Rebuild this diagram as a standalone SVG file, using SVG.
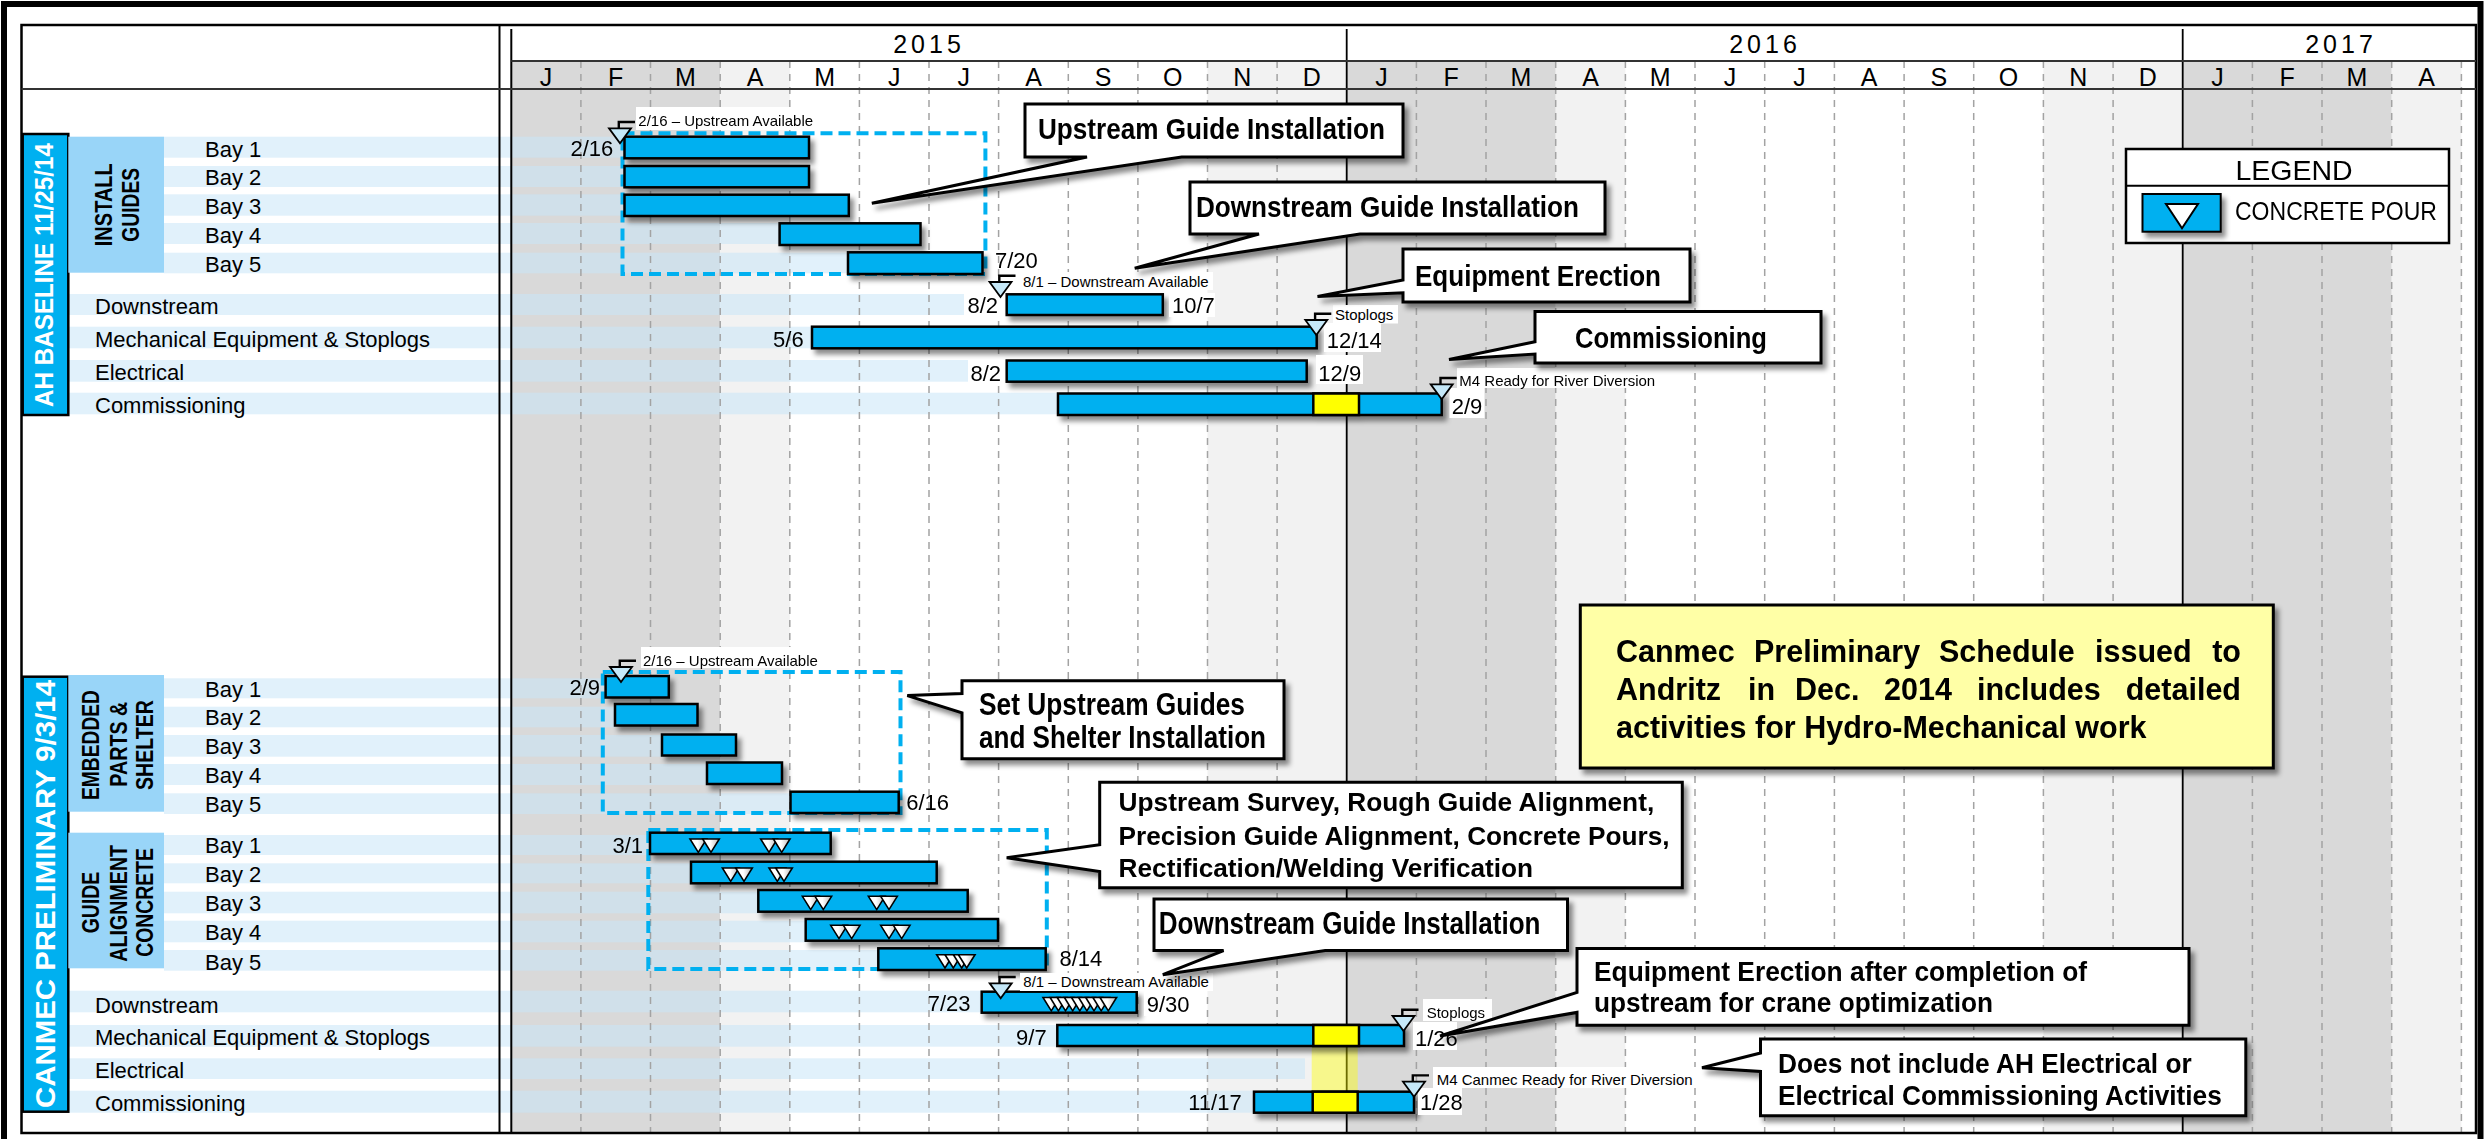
<svg xmlns="http://www.w3.org/2000/svg" width="2484" height="1139" viewBox="0 0 2484 1139">
  <defs>
    <style>
      text { font-family: "Liberation Sans", Arial, sans-serif; fill: #000; }
      .yr { font-size: 25px; letter-spacing: 4px; text-anchor: middle; }
      .mo { font-size: 25px; text-anchor: middle; }
      .row { font-size: 22px; }
      .dt { font-size: 22px; }
      .dtr { font-size: 22px; text-anchor: end; }
      .ms { font-size: 15px; }
      .vt { font-weight: bold; fill: #fff; text-anchor: middle; }
      .grp { font-weight: bold; text-anchor: middle; }
      .co { font-weight: bold; }
      .stripe { fill: #c8e5f7; fill-opacity: 0.55; }
      .dark { fill: #d9d9d9; }
      .light { fill: #f2f2f2; }
      .grid { stroke: #a3a3a3; stroke-width: 1.5; stroke-dasharray: 7 6; fill: none; }
      .bar { fill: #00b0f0; stroke: #000; stroke-width: 2.5; }
      .hold { fill: #ffff00; stroke: #000; stroke-width: 2.5; }
      .box { fill: none; stroke: #00b0f0; stroke-width: 4; stroke-dasharray: 12 6; }
      .callout { fill: #fff; stroke: #000; stroke-width: 3; filter: url(#shadow); }
      .bg { fill: #fff; }
      .title { fill: #00b0f0; stroke: #000; stroke-width: 2.5; }
      .blk { fill: #99d5f8; }
    </style>
    <filter id="shadow" x="-10%" y="-30%" width="130%" height="180%">
      <feDropShadow dx="4" dy="5" stdDeviation="2.5" flood-color="#000" flood-opacity="0.45"/>
    </filter>
    <linearGradient id="pourFill" x1="0" y1="0" x2="1" y2="0">
      <stop offset="0.45" stop-color="#ffffff"/>
      <stop offset="1" stop-color="#b8b8b8"/>
    </linearGradient>
    <!-- concrete pour symbol -->
    <polygon id="pour" points="-8.3,0 8.3,0 0,13.3" fill="url(#pourFill)" stroke="#000" stroke-width="1.6" stroke-linejoin="miter"/>
    <!-- milestone flag + triangle -->
    <g id="milestone">
      <path d="M-1.2,0 V-6.3 H15" fill="none" stroke="#000" stroke-width="2.4"/>
      <polygon points="-11,0 11,0 0,15" fill="#c5e8f8" stroke="#000" stroke-width="1.8"/>
    </g>
  </defs>

  <!-- page -->
  <rect x="0" y="0" width="2484" height="1139" fill="#fff"/>

  <!-- seasonal column shading -->
  <g id="shading">
    <rect class="dark" x="511.3" y="61" width="208.9" height="1072"/>
    <rect class="light" x="720.2" y="61" width="69.6" height="1072"/>
    <rect class="light" x="1207.5" y="61" width="139.2" height="1072"/>
    <rect class="dark" x="1346.7" y="61" width="209" height="1072"/>
    <rect class="light" x="1555.7" y="61" width="69.7" height="1072"/>
    <rect class="light" x="2043.4" y="61" width="139.3" height="1072"/>
    <rect class="dark" x="2182.7" y="61" width="209" height="1072"/>
    <rect class="light" x="2391.7" y="61" width="69.7" height="1072"/>
  </g>

  <!-- row stripes -->
  <g id="stripes">
    <rect class="stripe" x="164" y="136.7" width="460.5" height="21"/>
    <rect class="stripe" x="164" y="166" width="460.5" height="21"/>
    <rect class="stripe" x="164" y="194.3" width="460.5" height="21.4"/>
    <rect class="stripe" x="164" y="223" width="615.6" height="21"/>
    <rect class="stripe" x="164" y="252.7" width="684" height="20.6"/>
    <rect class="stripe" x="68" y="294" width="898" height="21"/>
    <rect class="stripe" x="68" y="326.7" width="744" height="21.6"/>
    <rect class="stripe" x="68" y="360" width="902" height="21.7"/>
    <rect class="stripe" x="68" y="392.7" width="990" height="21.6"/>

    <rect class="stripe" x="164" y="678.3" width="441.6" height="20"/>
    <rect class="stripe" x="164" y="706.7" width="451" height="20.6"/>
    <rect class="stripe" x="164" y="735" width="498" height="21.7"/>
    <rect class="stripe" x="164" y="764" width="543" height="21"/>
    <rect class="stripe" x="164" y="793.3" width="626.5" height="20.7"/>
    <rect class="stripe" x="164" y="835" width="486" height="20"/>
    <rect class="stripe" x="164" y="863.3" width="527" height="20"/>
    <rect class="stripe" x="164" y="891.7" width="594.3" height="21.6"/>
    <rect class="stripe" x="164" y="920.7" width="641.7" height="21.6"/>
    <rect class="stripe" x="164" y="950" width="714.3" height="20.7"/>
    <rect class="stripe" x="68" y="990.7" width="913.7" height="21.6"/>
    <rect class="stripe" x="68" y="1025" width="989.3" height="21.7"/>
    <rect class="stripe" x="68" y="1058.3" width="1237" height="20.7"/>
    <rect class="stripe" x="68" y="1090.7" width="1186" height="22"/>
  </g>

  <!-- month grid -->
  <path class="grid" d="M580.9,61V1133 M650.5,61V1133 M720.2,61V1133 M789.8,61V1133 M859.4,61V1133 M929,61V1133 M998.6,61V1133 M1068.3,61V1133 M1137.9,61V1133 M1207.5,61V1133 M1277.1,61V1133 M1416.4,61V1133 M1486,61V1133 M1555.7,61V1133 M1625.4,61V1133 M1695,61V1133 M1764.7,61V1133 M1834.4,61V1133 M1904.1,61V1133 M1973.7,61V1133 M2043.4,61V1133 M2113.1,61V1133 M2252.4,61V1133 M2322,61V1133 M2391.7,61V1133 M2461.4,61V1133"/>

  <!-- frame and header rules -->
  <g id="frame" fill="none" stroke="#000">
    <path d="M4,1139 V4 H2480.5 V1139" stroke-width="6"/>
    <rect x="21.5" y="25" width="2454.5" height="1108" stroke-width="2.5"/>
    <path d="M499.5,25 V1133" stroke-width="2"/>
    <path d="M511.3,29 V1133" stroke-width="2"/>
    <path d="M1346.7,29 V1133 M2182.7,29 V1133" stroke-width="1.8"/>
    <path d="M511.3,61 H2476" stroke="#333" stroke-width="2"/>
    <path d="M21.5,89 H2476" stroke="#333" stroke-width="2"/>
  </g>

  <!-- timescale -->
  <g id="timescale">
    <text class="yr" x="929" y="53">2015</text>
    <text class="yr" x="1765" y="53">2016</text>
    <text class="yr" x="2341" y="53">2017</text>
    <text class="mo" x="546.1" y="85.5">J</text>
    <text class="mo" x="615.7" y="85.5">F</text>
    <text class="mo" x="685.4" y="85.5">M</text>
    <text class="mo" x="755" y="85.5">A</text>
    <text class="mo" x="824.6" y="85.5">M</text>
    <text class="mo" x="894.2" y="85.5">J</text>
    <text class="mo" x="963.8" y="85.5">J</text>
    <text class="mo" x="1033.5" y="85.5">A</text>
    <text class="mo" x="1103.1" y="85.5">S</text>
    <text class="mo" x="1172.7" y="85.5">O</text>
    <text class="mo" x="1242.3" y="85.5">N</text>
    <text class="mo" x="1311.9" y="85.5">D</text>
    <text class="mo" x="1381.5" y="85.5">J</text>
    <text class="mo" x="1451.2" y="85.5">F</text>
    <text class="mo" x="1520.9" y="85.5">M</text>
    <text class="mo" x="1590.5" y="85.5">A</text>
    <text class="mo" x="1660.2" y="85.5">M</text>
    <text class="mo" x="1729.9" y="85.5">J</text>
    <text class="mo" x="1799.6" y="85.5">J</text>
    <text class="mo" x="1869.2" y="85.5">A</text>
    <text class="mo" x="1938.9" y="85.5">S</text>
    <text class="mo" x="2008.6" y="85.5">O</text>
    <text class="mo" x="2078.2" y="85.5">N</text>
    <text class="mo" x="2147.9" y="85.5">D</text>
    <text class="mo" x="2217.5" y="85.5">J</text>
    <text class="mo" x="2287.2" y="85.5">F</text>
    <text class="mo" x="2356.9" y="85.5">M</text>
    <text class="mo" x="2426.5" y="85.5">A</text>
  </g>

  <!-- AH baseline section labels -->
  <g id="ah-labels">
    <rect class="title" x="22.7" y="134" width="45.6" height="281"/>
    <text class="vt" font-size="25" transform="translate(53.3,275) rotate(-90)" textLength="264" lengthAdjust="spacingAndGlyphs">AH BASELINE 11/25/14</text>
    <rect class="blk" x="68.3" y="136.7" width="95.7" height="136"/>
    <text class="grp" font-size="23" transform="translate(111.7,204.7) rotate(-90)" textLength="83" lengthAdjust="spacingAndGlyphs">INSTALL</text>
    <text class="grp" font-size="23" transform="translate(139.3,204.8) rotate(-90)" textLength="73.7" lengthAdjust="spacingAndGlyphs">GUIDES</text>
    <text class="row" x="205" y="156.7">Bay 1</text>
    <text class="row" x="205" y="185.3">Bay 2</text>
    <text class="row" x="205" y="214.3">Bay 3</text>
    <text class="row" x="205" y="243.3">Bay 4</text>
    <text class="row" x="205" y="271.7">Bay 5</text>
    <text class="row" x="95" y="314">Downstream</text>
    <text class="row" x="95" y="346.7">Mechanical Equipment &amp; Stoplogs</text>
    <text class="row" x="95" y="380">Electrical</text>
    <text class="row" x="95" y="412.7">Commissioning</text>
  </g>

  <!-- Canmec preliminary section labels -->
  <g id="canmec-labels">
    <rect class="title" x="22.7" y="676.7" width="45.6" height="435"/>
    <text class="vt" font-size="28" transform="translate(55,894) rotate(-90)" textLength="428" lengthAdjust="spacingAndGlyphs">CANMEC PRELIMINARY 9/3/14</text>
    <rect class="blk" x="68.3" y="675" width="95.7" height="136.7"/>
    <text class="grp" font-size="24" transform="translate(99.3,745) rotate(-90)" textLength="110" lengthAdjust="spacingAndGlyphs">EMBEDDED</text>
    <text class="grp" font-size="24" transform="translate(126.7,744.2) rotate(-90)" textLength="85" lengthAdjust="spacingAndGlyphs">PARTS &amp;</text>
    <text class="grp" font-size="24" transform="translate(153.3,745) rotate(-90)" textLength="90" lengthAdjust="spacingAndGlyphs">SHELTER</text>
    <rect class="blk" x="68.3" y="832.7" width="95.7" height="135.6"/>
    <text class="grp" font-size="24" transform="translate(99.3,902.5) rotate(-90)" textLength="61.6" lengthAdjust="spacingAndGlyphs">GUIDE</text>
    <text class="grp" font-size="24" transform="translate(126.7,903.3) rotate(-90)" textLength="116.7" lengthAdjust="spacingAndGlyphs">ALIGNMENT</text>
    <text class="grp" font-size="24" transform="translate(153.3,902.5) rotate(-90)" textLength="108.7" lengthAdjust="spacingAndGlyphs">CONCRETE</text>
    <text class="row" x="205" y="696.7">Bay 1</text>
    <text class="row" x="205" y="725">Bay 2</text>
    <text class="row" x="205" y="754">Bay 3</text>
    <text class="row" x="205" y="783.3">Bay 4</text>
    <text class="row" x="205" y="812.3">Bay 5</text>
    <text class="row" x="205" y="853.3">Bay 1</text>
    <text class="row" x="205" y="882.3">Bay 2</text>
    <text class="row" x="205" y="910.7">Bay 3</text>
    <text class="row" x="205" y="940">Bay 4</text>
    <text class="row" x="205" y="970">Bay 5</text>
    <text class="row" x="95" y="1012.7">Downstream</text>
    <text class="row" x="95" y="1045">Mechanical Equipment &amp; Stoplogs</text>
    <text class="row" x="95" y="1078.3">Electrical</text>
    <text class="row" x="95" y="1111">Commissioning</text>
  </g>

  <!-- grouping frames -->
  <g id="groupings">
    <rect class="box" x="622.5" y="133.3" width="362.9" height="140.7"/>
    <rect class="box" x="602.8" y="672" width="297.7" height="141"/>
    <rect class="box" x="648.3" y="830" width="398.5" height="139"/>
  </g>

  <!-- electrical hold window -->
  <rect id="hold-window" x="1311.7" y="1046" width="46" height="45.7" fill="#ffff00" fill-opacity="0.42"/>

  <!-- AH baseline bars -->
  <g id="ah-bars" filter="url(#shadow)">
    <rect id="ah-bay1" class="bar" x="624.5" y="136.7" width="184.5" height="21.6"/>
    <rect id="ah-bay2" class="bar" x="624.5" y="166" width="184.5" height="21.3"/>
    <rect id="ah-bay3" class="bar" x="624.5" y="194.7" width="224.3" height="21.3"/>
    <rect id="ah-bay4" class="bar" x="779.6" y="223.3" width="140.9" height="21.7"/>
    <rect id="ah-bay5" class="bar" x="848" y="252.3" width="134.5" height="21.7"/>
    <rect id="ah-downstream" class="bar" x="1006.7" y="294.3" width="156.1" height="20.7"/>
    <rect id="ah-mech" class="bar" x="812" y="326.7" width="504.7" height="21.6"/>
    <rect id="ah-elec" class="bar" x="1006.7" y="360.5" width="300" height="21.2"/>
    <g id="ah-comm">
      <rect class="bar" x="1058" y="393.5" width="383.7" height="21.5"/>
      <rect class="hold" x="1313.3" y="393.5" width="45.7" height="21.5"/>
    </g>
  </g>

  <!-- Canmec preliminary bars -->
  <g id="cm-bars" filter="url(#shadow)">
    <rect id="cm-eps1" class="bar" x="605.6" y="676" width="63.2" height="21.5"/>
    <rect id="cm-eps2" class="bar" x="615" y="704" width="82.5" height="21.5"/>
    <rect id="cm-eps3" class="bar" x="662" y="734.5" width="74" height="21"/>
    <rect id="cm-eps4" class="bar" x="707" y="762.5" width="75" height="21.5"/>
    <rect id="cm-eps5" class="bar" x="790.5" y="791.7" width="108.2" height="21.3"/>
    <g id="cm-gac1">
      <rect class="bar" x="650" y="832.7" width="180.7" height="21.3"/>
      <use href="#pour" x="698.3" y="839"/><use href="#pour" x="711" y="839"/>
      <use href="#pour" x="769" y="839"/><use href="#pour" x="781.7" y="839"/>
    </g>
    <g id="cm-gac2">
      <rect class="bar" x="691" y="861.7" width="245.7" height="21.6"/>
      <use href="#pour" x="730.7" y="868"/><use href="#pour" x="744" y="868"/>
      <use href="#pour" x="777.3" y="868"/><use href="#pour" x="784" y="868"/>
    </g>
    <g id="cm-gac3">
      <rect class="bar" x="758.3" y="890" width="209.4" height="21.7"/>
      <use href="#pour" x="810.7" y="896.3"/><use href="#pour" x="823.3" y="896.3"/>
      <use href="#pour" x="876.7" y="896.3"/><use href="#pour" x="889" y="896.3"/>
    </g>
    <g id="cm-gac4">
      <rect class="bar" x="805.7" y="919" width="192.3" height="21.7"/>
      <use href="#pour" x="839" y="925.3"/><use href="#pour" x="851.7" y="925.3"/>
      <use href="#pour" x="889" y="925.3"/><use href="#pour" x="901.7" y="925.3"/>
    </g>
    <g id="cm-gac5">
      <rect class="bar" x="878.3" y="948.3" width="167.4" height="21.7"/>
      <use href="#pour" x="945" y="954.7"/><use href="#pour" x="953.3" y="954.7"/>
      <use href="#pour" x="961.7" y="954.7"/><use href="#pour" x="966.7" y="954.7"/>
    </g>
    <g id="cm-downstream">
      <rect class="bar" x="981.7" y="991.7" width="155" height="21"/>
      <use href="#pour" x="1051.3" y="997.5"/><use href="#pour" x="1058.4" y="997.5"/>
      <use href="#pour" x="1065.5" y="997.5"/><use href="#pour" x="1072.7" y="997.5"/>
      <use href="#pour" x="1079.8" y="997.5"/><use href="#pour" x="1086.9" y="997.5"/>
      <use href="#pour" x="1094" y="997.5"/><use href="#pour" x="1101.2" y="997.5"/>
      <use href="#pour" x="1108.3" y="997.5"/>
    </g>
    <g id="cm-mech">
      <rect class="bar" x="1057.3" y="1025" width="346.7" height="21"/>
      <rect class="hold" x="1313.3" y="1025" width="45.7" height="21"/>
    </g>
    <g id="cm-comm">
      <rect class="bar" x="1254" y="1091.7" width="160" height="21"/>
      <rect class="hold" x="1312.7" y="1091.7" width="45" height="21"/>
    </g>
  </g>

  <!-- start / finish dates -->
  <g id="dates">
    <text class="dtr" x="613.3" y="155.5">2/16</text>
    <text class="dt" x="995" y="268">7/20</text>
    <rect class="bg" x="964" y="294" width="36" height="22"/>
    <text class="dtr" x="998" y="313.3">8/2</text>
    <rect class="bg" x="1169" y="293" width="46" height="24"/>
    <text class="dt" x="1172" y="313.3">10/7</text>
    <text class="dtr" x="803.7" y="346.7">5/6</text>
    <rect class="bg" x="1324" y="323" width="57" height="29"/>
    <text class="dt" x="1326.7" y="348.3">12/14</text>
    <rect class="bg" x="968" y="360" width="36" height="22"/>
    <text class="dtr" x="1001" y="380.5">8/2</text>
    <rect class="bg" x="1316" y="355" width="47" height="29"/>
    <text class="dt" x="1318.3" y="380.7">12/9</text>
    <rect class="bg" x="1449.5" y="388" width="35" height="30"/>
    <text class="dt" x="1451.7" y="414">2/9</text>

    <text class="dtr" x="600" y="694.5">2/9</text>
    <text class="dt" x="906.2" y="810.4">6/16</text>
    <text class="dtr" x="643" y="852.7">3/1</text>
    <text class="dt" x="1059.5" y="966">8/14</text>
    <text class="dtr" x="970.5" y="1010.8">7/23</text>
    <rect class="bg" x="1144" y="992" width="49" height="24"/>
    <text class="dt" x="1146.7" y="1011.7">9/30</text>
    <text class="dtr" x="1046.7" y="1045">9/7</text>
    <rect class="bg" x="1413" y="1022" width="44" height="28"/>
    <text class="dt" x="1415" y="1046">1/26</text>
    <text class="dtr" x="1241.7" y="1110">11/17</text>
    <rect class="bg" x="1418" y="1088" width="44" height="27"/>
    <text class="dt" x="1420" y="1110">1/28</text>
  </g>

  <!-- milestones -->
  <g id="milestones">
    <rect class="bg" x="636" y="107" width="181" height="23"/>
    <text class="ms" x="638.3" y="126">2/16 – Upstream Available</text>
    <use href="#milestone" x="620" y="128.3"/>

    <rect class="bg" x="1020" y="272" width="193" height="18"/>
    <text class="ms" x="1023" y="286.5">8/1 – Downstream Available</text>
    <use href="#milestone" x="1000.5" y="282"/>

    <rect class="bg" x="1333" y="305" width="65" height="18.5"/>
    <text class="ms" x="1335" y="320">Stoplogs</text>
    <use href="#milestone" x="1316.3" y="320"/>

    <rect class="bg" x="1457" y="368" width="203" height="20"/>
    <text class="ms" x="1459.3" y="385.5">M4 Ready for River Diversion</text>
    <use href="#milestone" x="1441.7" y="384.3"/>

    <rect class="bg" x="641" y="647" width="182" height="21"/>
    <text class="ms" x="643" y="665.5">2/16 – Upstream Available</text>
    <use href="#milestone" x="621" y="667"/>

    <rect class="bg" x="1020" y="973" width="193" height="18"/>
    <text class="ms" x="1023.3" y="987">8/1 – Downstream Available</text>
    <use href="#milestone" x="1000.7" y="983.3"/>

    <rect class="bg" x="1423" y="999" width="69" height="22"/>
    <text class="ms" x="1426.7" y="1018.3">Stoplogs</text>
    <use href="#milestone" x="1403.5" y="1016"/>

    <rect class="bg" x="1433" y="1067" width="265" height="21"/>
    <text class="ms" x="1436.7" y="1085">M4 Canmec Ready for River Diversion</text>
    <use href="#milestone" x="1414" y="1081.7"/>
  </g>

  <!-- callouts -->
  <g id="callout-upstream-ah">
    <path class="callout" d="M1025,104 H1403 V157 H1181.7 L871.8,203.3 L1087,157 H1025 Z"/>
    <text class="co" x="1038" y="139" font-size="30" textLength="347" lengthAdjust="spacingAndGlyphs">Upstream Guide Installation</text>
  </g>
  <g id="callout-downstream-ah">
    <path class="callout" d="M1190,182 H1605 V234 H1360 L1134.7,268.3 L1259,234 H1190 Z"/>
    <text class="co" x="1196" y="217" font-size="30" textLength="383" lengthAdjust="spacingAndGlyphs">Downstream Guide Installation</text>
  </g>
  <g id="callout-erection-ah">
    <path class="callout" d="M1403,249 H1690 V302 H1403 V292.7 L1317.5,296.5 L1403,280 Z"/>
    <text class="co" x="1415" y="286" font-size="29.5" textLength="246" lengthAdjust="spacingAndGlyphs">Equipment Erection</text>
  </g>
  <g id="callout-commissioning-ah">
    <path class="callout" d="M1535,311.5 H1821 V363 H1535 V354 L1449,359.5 L1535,341.7 Z"/>
    <text class="co" x="1575" y="348" font-size="30" textLength="192" lengthAdjust="spacingAndGlyphs">Commissioning</text>
  </g>
  <g id="callout-guides-cm">
    <path class="callout" d="M962,680.8 H1284 V758.8 H962 V712.8 L907.3,695.6 L962,693.5 Z"/>
    <text class="co" x="979" y="715" font-size="30.5" textLength="266" lengthAdjust="spacingAndGlyphs">Set Upstream Guides</text>
    <text class="co" x="979" y="747.8" font-size="30.5" textLength="287" lengthAdjust="spacingAndGlyphs">and Shelter Installation</text>
  </g>
  <g id="callout-alignment-cm">
    <path class="callout" d="M1099.7,782.2 H1682.3 V887.7 H1099.7 V871.6 L1006.7,857.8 L1099.7,844.8 Z"/>
    <text class="co" x="1118.6" y="811.4" font-size="26.5" textLength="535.6" lengthAdjust="spacingAndGlyphs">Upstream Survey, Rough Guide Alignment,</text>
    <text class="co" x="1118.6" y="844.8" font-size="26.5" textLength="551" lengthAdjust="spacingAndGlyphs">Precision Guide Alignment, Concrete Pours,</text>
    <text class="co" x="1118.6" y="876.7" font-size="26.5" textLength="414.5" lengthAdjust="spacingAndGlyphs">Rectification/Welding Verification</text>
  </g>
  <g id="callout-downstream-cm">
    <path class="callout" d="M1154,899 H1567.5 V950.6 H1325.3 L1162.8,974.7 L1223.6,950.6 H1154 Z"/>
    <text class="co" x="1158.8" y="933.5" font-size="30.5" textLength="381.7" lengthAdjust="spacingAndGlyphs">Downstream Guide Installation</text>
  </g>
  <g id="callout-erection-cm">
    <path class="callout" d="M1577,948.5 H2189 V1025.3 H1577 V1012.4 L1440,1036 L1577,992.5 Z"/>
    <text class="co" x="1594" y="981" font-size="28.5" textLength="493" lengthAdjust="spacingAndGlyphs">Equipment Erection after completion of</text>
    <text class="co" x="1594" y="1012.4" font-size="28.5" textLength="399" lengthAdjust="spacingAndGlyphs">upstream for crane optimization</text>
  </g>
  <g id="callout-electrical-cm">
    <path class="callout" d="M1760.5,1039 H2245.8 V1115.8 H1760.5 V1071.4 L1702,1067.7 L1760.5,1053 Z"/>
    <text class="co" x="1778" y="1073.3" font-size="28.5" textLength="413.7" lengthAdjust="spacingAndGlyphs">Does not include AH Electrical or</text>
    <text class="co" x="1778" y="1104.7" font-size="28.5" textLength="443.8" lengthAdjust="spacingAndGlyphs">Electrical Commissioning Activities</text>
  </g>

  <!-- schedule note -->
  <g id="note">
    <rect x="1580.3" y="605" width="693" height="163" fill="#ffffa6" stroke="#000" stroke-width="3" filter="url(#shadow)"/>
    <g class="co" font-size="30.5">
      <text class="co" x="1616" y="661.6">Canmec</text>
      <text class="co" x="1754" y="661.6">Preliminary</text>
      <text class="co" x="1939" y="661.6">Schedule</text>
      <text class="co" x="2095" y="661.6">issued</text>
      <text class="co" x="2241" y="661.6" text-anchor="end">to</text>
      <text class="co" x="1616" y="700.3">Andritz</text>
      <text class="co" x="1748" y="700.3">in</text>
      <text class="co" x="1795" y="700.3">Dec.</text>
      <text class="co" x="1884" y="700.3">2014</text>
      <text class="co" x="1977" y="700.3">includes</text>
      <text class="co" x="2241" y="700.3" text-anchor="end">detailed</text>
      <text class="co" x="1616" y="738.4">activities for Hydro-Mechanical work</text>
    </g>
  </g>

  <!-- legend -->
  <g id="legend">
    <rect x="2126" y="149" width="323" height="94" fill="#fff" stroke="#000" stroke-width="2.5"/>
    <path d="M2126,185.7 H2449" stroke="#000" stroke-width="2"/>
    <text x="2294" y="180" font-size="28.5" text-anchor="middle">LEGEND</text>
    <g filter="url(#shadow)">
      <rect x="2142.5" y="194" width="78.2" height="37.7" fill="#00b0f0" stroke="#000" stroke-width="2"/>
      <polygon points="2166,204 2198,204 2182,228.3" fill="#fff" stroke="#000" stroke-width="2"/>
    </g>
    <text x="2235" y="220" font-size="25.5" textLength="202" lengthAdjust="spacingAndGlyphs">CONCRETE POUR</text>
  </g>
</svg>
